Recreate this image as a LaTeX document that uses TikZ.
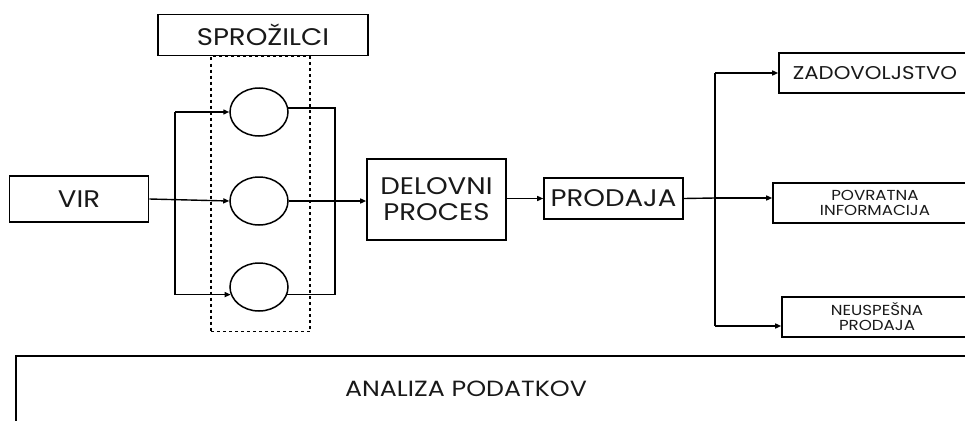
\documentclass[tikz,border=0pt]{standalone}
\usepackage{fontspec}
\setmainfont[FakeStretch=1.15]{Poppins}
\usetikzlibrary{arrows.meta,shapes.geometric}
\begin{document}
\begin{tikzpicture}[x=1pt,y=-1pt,
  box/.style={draw,line width=1.6pt,rectangle,inner sep=0pt,align=center,text=black!90},
  trig/.style={draw,line width=1.5pt,ellipse,minimum width=58pt,minimum height=48pt,inner sep=0pt},
  link/.style={line width=1.4pt},
  arr/.style={link,-{Triangle[length=6pt,width=5pt]}},
  big/.style={font=\fontsize{24}{26}\selectfont},
  mid/.style={font=\fontsize{18.5}{21}\selectfont},
  small/.style={font=\fontsize{14.5}{15}\selectfont},
  band/.style={font=\fontsize{22}{24}\selectfont}]
\useasboundingbox (0,0) rectangle (965,420);
\clip (0,0) rectangle (965,420);

% group header and dashed frame
\node[box,big,minimum width=210pt,minimum height=41pt] (hdr) at (263,35) {SPROŽILCI};
\node[draw,dashed,line width=1.3pt,minimum width=99pt,minimum height=275pt,inner sep=0pt] (frame) at (260.5,194) {};

% trigger ellipses
\node[trig] (c1) at (259,112) {};
\node[trig] (c2) at (259,201) {};
\node[trig] (c3) at (259,287) {};

% main process chain
\node[box,big,minimum width=139pt,minimum height=46pt] (vir) at (79,199) {VIR};
\node[box,big,minimum width=139pt,minimum height=81pt] (proc) at (436.5,199.5) {DELOVNI\\PROCES};
\node[box,big,minimum width=139pt,minimum height=41pt] (sale) at (613.5,198.5) {PRODAJA};

% outcomes (boxes run off the right edge)
\node[box,mid,minimum width=192pt,minimum height=40pt] (sat) at (875,73) {ZADOVOLJSTVO};
\node[box,small,minimum width=204pt,minimum height=40pt] (fb) at (875,203) {POVRATNA\\INFORMACIJA};
\node[box,small,minimum width=190pt,minimum height=40pt] (fail) at (877,317) {NEUSPEŠNA\\PRODAJA};

% analysis band along the bottom
\node[draw,line width=1.6pt,minimum width=980pt,minimum height=90pt,inner sep=0pt,anchor=north west] (an) at (15,355) {};
\node[band,text=black!90] (antext) at (466,389) {ANALIZA PODATKOV};

% fan-out from the source
\coordinate (split) at (175,200);
\draw[arr] (vir.east) -- (c2.west);
\draw[link] (split |- c1.west) -- (split |- c3.195);
\draw[arr] (split |- c1.west) -- (c1.west);
\draw[arr] (split |- c3.195) -- (c3.195);

% fan-in to the work process
\coordinate (merge) at (335,200);
\draw[link] (c1.8) -- (merge |- c1.8) -- (merge |- c3.345) -- (c3.345);
\draw[arr] (c2.east) -- (proc.west |- c2.east);

\draw[arr] (proc.east |- sale.west) -- (sale.west);

% outcome branches
\coordinate (fork) at (715,198);
\draw[link] (sale.east) -- (fork);
\draw[link] (fork |- sat.west) -- (fork |- 0,326);
\draw[arr] (fork |- sat.west) -- (sat.west);
\draw[arr] (fork) -- (fb.west |- fork);
\draw[arr] (fork |- 0,326) -- (fail.west |- 0,326);
\end{tikzpicture}
\end{document}
